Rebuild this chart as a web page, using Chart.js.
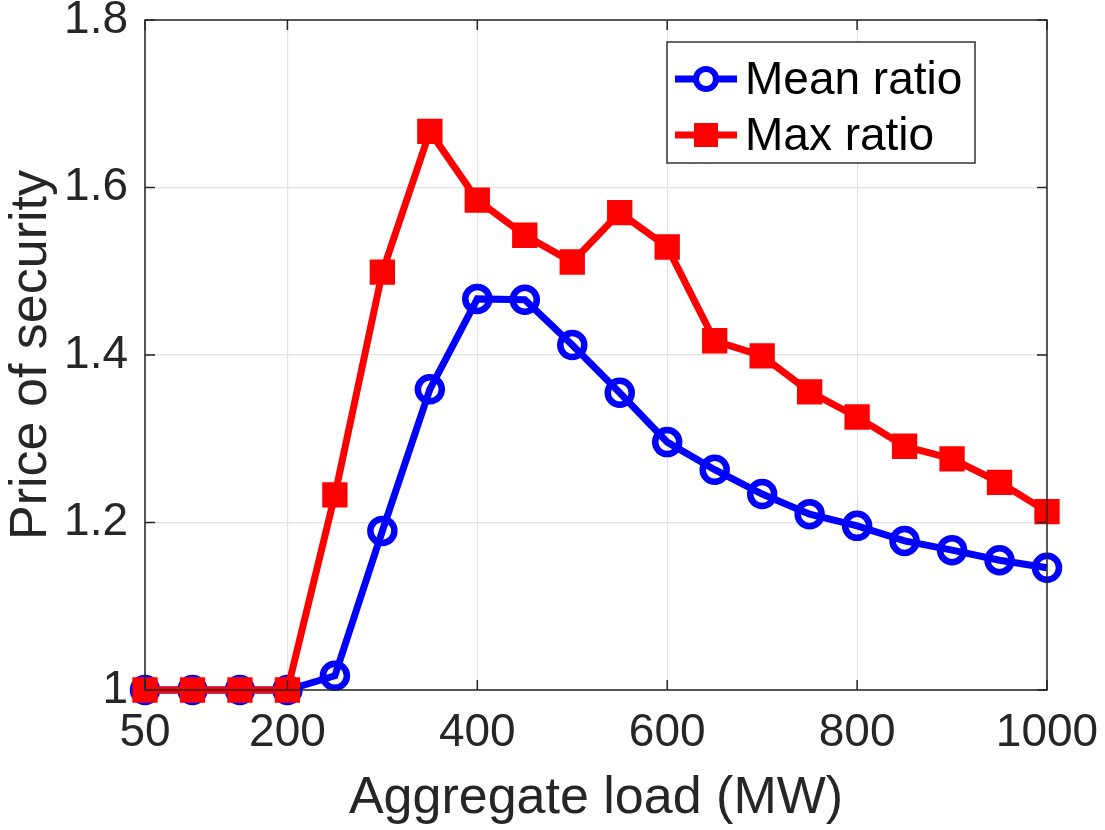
<!DOCTYPE html>
<html>
<head>
<meta charset="utf-8">
<script src="https://cdn.jsdelivr.net/npm/chart.js@4"></script>
<style>
  html, body { margin: 0; padding: 0; background: #fff; }
  #wrap { width: 1105px; height: 830px; }
</style>
</head>
<body>
<div id="wrap"><canvas id="chart"></canvas></div>
<script>
const loads = [50, 100, 150, 200, 250, 300, 350, 400, 450, 500, 550, 600, 650, 700, 750, 800, 850, 900, 950, 1000];
const meanRatio = [1, 1, 1, 1, 1.017, 1.19, 1.359, 1.467, 1.466, 1.412, 1.355, 1.296, 1.263, 1.234, 1.21, 1.196, 1.178, 1.167, 1.155, 1.146];
const maxRatio = [1, 1, 1, 1, 1.233, 1.499, 1.667, 1.585, 1.543, 1.511, 1.570, 1.529, 1.417, 1.399, 1.356, 1.326, 1.291, 1.276, 1.248, 1.213];
const xTicks = [50, 200, 400, 600, 800, 1000];
const yTicks = [1, 1.2, 1.4, 1.6, 1.8];

const FONT = "'Liberation Sans', Arial, Helvetica, sans-serif";
const TEXT = "#262626";

// MATLAB-like box, inward ticks and legend
const boxPlugin = {
  id: "box",
  afterDraw(chart) {
    const { ctx, chartArea: a, scales } = chart;
    ctx.save();
    ctx.strokeStyle = TEXT;
    ctx.lineWidth = 1.5;
    ctx.strokeRect(a.left, a.top, a.right - a.left, a.bottom - a.top);
    ctx.beginPath();
    xTicks.forEach((v) => {
      const x = scales.x.getPixelForValue(v);
      ctx.moveTo(x, a.bottom); ctx.lineTo(x, a.bottom - 10);
      ctx.moveTo(x, a.top); ctx.lineTo(x, a.top + 10);
    });
    yTicks.forEach((v) => {
      const y = scales.y.getPixelForValue(v);
      ctx.moveTo(a.left, y); ctx.lineTo(a.left + 10, y);
      ctx.moveTo(a.right, y); ctx.lineTo(a.right - 10, y);
    });
    ctx.stroke();

    // legend
    const lx = 667, ly = 42, lw = 308, lh = 121;
    ctx.fillStyle = "#fff";
    ctx.fillRect(lx, ly, lw, lh);
    ctx.strokeStyle = "#333";
    ctx.lineWidth = 1.5;
    ctx.strokeRect(lx, ly, lw, lh);
    const rows = [
      { label: "Mean ratio", color: "#0000ff", y: ly + 37, circle: true },
      { label: "Max ratio", color: "#ff0000", y: ly + 93, circle: false },
    ];
    rows.forEach((r) => {
      ctx.strokeStyle = r.color;
      ctx.lineWidth = 7;
      ctx.beginPath();
      ctx.moveTo(lx + 8, r.y); ctx.lineTo(lx + 70, r.y);
      ctx.stroke();
      if (r.circle) {
        ctx.fillStyle = "#fff";
        ctx.beginPath();
        ctx.arc(lx + 39, r.y, 10, 0, Math.PI * 2);
        ctx.fill();
        ctx.lineWidth = 6;
        ctx.stroke();
      } else {
        ctx.fillStyle = r.color;
        ctx.fillRect(lx + 27, r.y - 12, 24, 24);
      }
      ctx.fillStyle = "#000";
      ctx.font = "46px " + FONT;
      ctx.textBaseline = "middle";
      ctx.textAlign = "left";
      ctx.fillText(r.label, lx + 78, r.y + 2);
    });
    ctx.restore();
  },
};

new Chart(document.getElementById("chart"), {
  type: "line",
  data: {
    datasets: [
      {
        label: "Mean ratio",
        data: loads.map((x, i) => ({ x, y: meanRatio[i] })),
        order: 2,
        borderColor: "#0000ff",
        backgroundColor: "#ffffff",
        borderWidth: 7,
        pointStyle: "circle",
        pointRadius: 12,
        pointBorderWidth: 6.5,
        pointBorderColor: "#0000ff",
        pointBackgroundColor: "rgba(255,255,255,0)",
        clip: false,
      },
      {
        label: "Max ratio",
        data: loads.map((x, i) => ({ x, y: maxRatio[i] })),
        order: 1,
        borderColor: "#ff0000",
        backgroundColor: "#ff0000",
        borderWidth: 7,
        pointStyle: "rect",
        pointRadius: 16.5,
        pointBorderWidth: 2,
        pointBorderColor: "#ff0000",
        pointBackgroundColor: "#ff0000",
        clip: false,
      },
    ],
  },
  options: {
    responsive: true,
    maintainAspectRatio: false,
    animation: false,
    layout: { padding: { top: 20, right: 58, left: 0, bottom: 0 } },
    plugins: { legend: { display: false }, tooltip: { enabled: false } },
    scales: {
      x: {
        type: "linear",
        min: 50,
        max: 1000,
        afterBuildTicks: (s) => { s.ticks = xTicks.map((v) => ({ value: v })); },
        afterFit: (s) => { s.height = 140; s.paddingLeft = 0; s.paddingRight = 0; },
        grid: { color: "#e2e2e2", lineWidth: 1.2, drawTicks: false },
        border: { display: false },
        ticks: {
          padding: 16,
          color: TEXT,
          font: { family: FONT, size: 46 },
          maxRotation: 0,
          callback: (v) => String(v),
        },
        title: {
          display: true,
          text: "Aggregate load (MW)",
          color: TEXT,
          font: { family: FONT, size: 52 },
          padding: { top: 0, bottom: 0 },
        },
      },
      y: {
        min: 1,
        max: 1.8,
        afterBuildTicks: (s) => { s.ticks = yTicks.map((v) => ({ value: v })); },
        afterFit: (s) => { s.width = 145; s.paddingTop = 0; s.paddingBottom = 0; },
        grid: { color: "#e2e2e2", lineWidth: 1.2, drawTicks: false },
        border: { display: false },
        ticks: {
          padding: 17,
          color: TEXT,
          font: { family: FONT, size: 46 },
          callback: (v) => (v === 1 ? "1" : v.toFixed(1)),
        },
        title: {
          display: true,
          text: "Price of security",
          color: TEXT,
          font: { family: FONT, size: 52 },
          padding: { top: 0, bottom: 0 },
        },
      },
    },
  },
  plugins: [boxPlugin],
});
</script>
</body>
</html>
